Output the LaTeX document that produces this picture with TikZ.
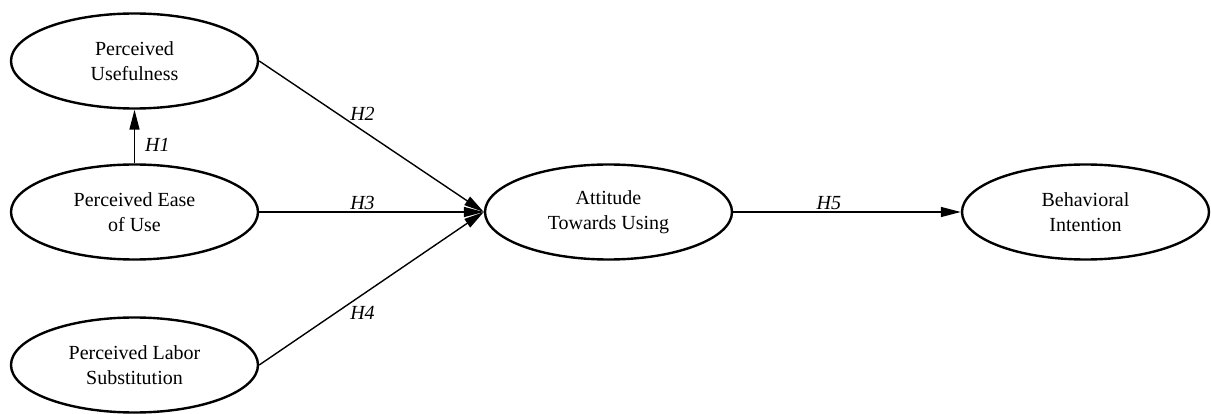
\documentclass[tikz,border=0pt]{standalone}
\usepackage{fontspec}
\setmainfont{Liberation Serif}
\usetikzlibrary{arrows.meta,shapes.geometric}
\begin{document}
\begin{tikzpicture}[x=1pt,y=-1pt,
  construct/.style={ellipse, draw, line width=2.4pt, minimum width=247pt,
    minimum height=95pt, inner sep=0pt, align=center,
    font=\fontsize{20}{25.5}\selectfont},
  path/.style={line width=1.4pt, -{Triangle[length=20pt,width=10pt]}},
  hyp/.style={font=\fontsize{20}{23}\selectfont\itshape, inner sep=2pt}]
  \useasboundingbox (0,0) rectangle (1211,414);

  % constructs
  \node[construct] (pu)  at (134.5,61)  {Perceived\\Usefulness};
  \node[construct] (peu) at (134.5,212) {Perceived Ease\\of Use};
  \node[construct] (pls) at (134.5,365) {Perceived Labor\\Substitution};
  \node[construct] (atu) at (608.5,212) {Attitude\\Towards Using};
  \node[construct] (bi)  at (1085.5,212) {Behavioral\\Intention};

  % hypothesised paths
  \draw[path] (peu) -- node[hyp, pos=0.35, anchor=west, xshift=8pt] (h1) {H1} (pu);
  \draw[path] (pu.east) -- node[hyp, pos=0.46, above, yshift=7pt] (h2) {H2} (atu.west);
  \draw[path] (peu.east) -- node[hyp, pos=0.46, above] (h3) {H3} (atu.west);
  \draw[path] (pls.east) -- node[hyp, pos=0.46, below, yshift=-9pt] (h4) {H4} (atu.west);
  \draw[path] (atu.east) -- node[hyp, pos=0.42, above] (h5) {H5} (bi.west);
\end{tikzpicture}
\end{document}
